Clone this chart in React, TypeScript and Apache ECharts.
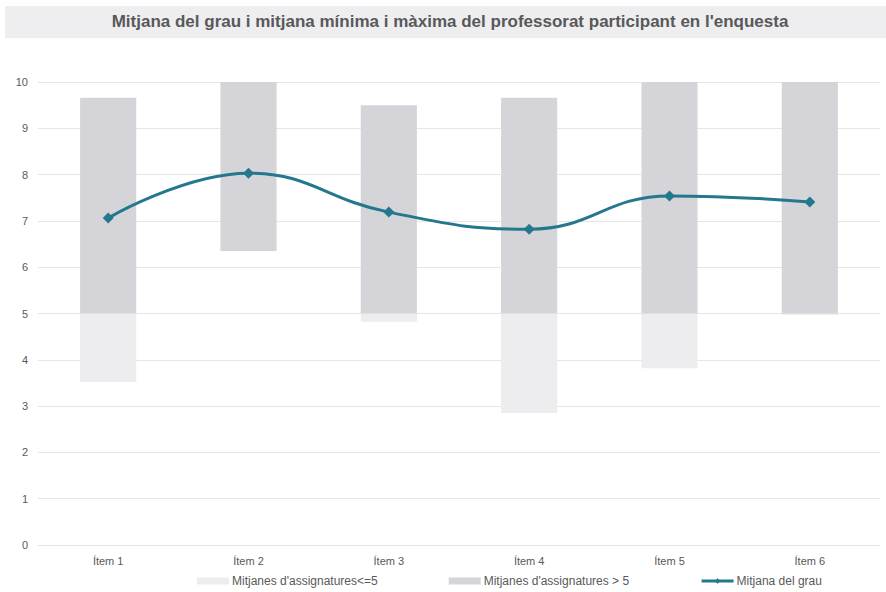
import React, { useEffect, useRef } from "react";
import * as echarts from "echarts";

const categories = ["Ítem 1", "Ítem 2", "Ítem 3", "Ítem 4", "Ítem 5", "Ítem 6"];
const minValues = [3.52, 6.35, 4.82, 2.85, 3.82, 4.97];
const maxValues = [9.66, 10, 9.5, 9.66, 10, 10];
const meanValues = [7.06, 8.03, 7.19, 6.82, 7.54, 7.41];
const yTicks = [0, 10, 1];

export default function App() {
  const ref = useRef<HTMLDivElement>(null);
  useEffect(() => {
    if (!ref.current) return;
    const chart = echarts.init(ref.current, undefined, { renderer: "svg" });
    const base = minValues.map((v) => v);
    const low = minValues.map((v) => (v < 5 ? +(5 - v).toFixed(3) : 0));
    const high = minValues.map((v, i) => +(maxValues[i] - Math.max(v, 5)).toFixed(3));
    const font = "'Liberation Sans', Arial, sans-serif";
    chart.setOption({
      animation: false,
      textStyle: { fontFamily: font },
      graphic: [
        {
          type: "rect",
          shape: { x: 5, y: 6, width: 881, height: 32 },
          style: { fill: "#eeeef0" },
          z: -1,
        },
        {
          type: "text",
          x: 450,
          y: 21,
          style: {
            text: "Mitjana del grau i mitjana mínima i màxima del professorat participant en l'enquesta",
            fill: "#595959",
            font: `bold 17px ${font}`,
            align: "center",
            verticalAlign: "middle",
          },
        },
      ],
      grid: { left: 38, right: 6, top: 82, bottom: 47, containLabel: false },
      xAxis: {
        type: "category",
        data: categories,
        axisLine: { show: true, lineStyle: { color: "#e3e3e3" } },
        axisTick: { show: false },
        axisLabel: { color: "#595959", fontSize: 11, margin: 10 },
      },
      yAxis: {
        type: "value",
        min: yTicks[0],
        max: yTicks[1],
        interval: yTicks[2],
        axisLine: { show: false },
        axisTick: { show: false },
        axisLabel: { color: "#595959", fontSize: 11, margin: 10 },
        splitLine: { lineStyle: { color: "#e6e6e6" } },
      },
      legend: {
        bottom: 0,
        left: 192,
        itemGap: 71,
        itemWidth: 32,
        itemHeight: 7,
        textStyle: { color: "#595959", fontSize: 12, padding: [0, 0, 0, -2] },
        data: [
          { name: "Mitjanes d'assignatures<=5", icon: "rect" },
          { name: "Mitjanes d'assignatures > 5", icon: "rect" },
          { name: "Mitjana del grau", lineStyle: { width: 3 } },
        ],
      },
      series: [
        {
          type: "bar",
          name: "base",
          stack: "s",
          data: base,
          barWidth: "40%",
          itemStyle: { color: "transparent" },
          emphasis: { disabled: true },
          silent: true,
        },
        {
          type: "bar",
          name: "Mitjanes d'assignatures<=5",
          stack: "s",
          data: low,
          barWidth: "40%",
          itemStyle: { color: "#ededf0" },
        },
        {
          type: "bar",
          name: "Mitjanes d'assignatures > 5",
          stack: "s",
          data: high,
          barWidth: "40%",
          itemStyle: { color: "#d5d5d9" },
        },
        {
          type: "line",
          name: "Mitjana del grau",
          data: meanValues,
          smooth: 0.45,
          symbol: "diamond",
          symbolSize: 11,
          lineStyle: { color: "#23788d", width: 3 },
          itemStyle: { color: "#23788d" },
          z: 5,
        },
      ],
    });
    return () => chart.dispose();
  }, []);
  return <div ref={ref} style={{ width: 886, height: 592, position: "absolute", left: 0, top: 0 }} />;
}
